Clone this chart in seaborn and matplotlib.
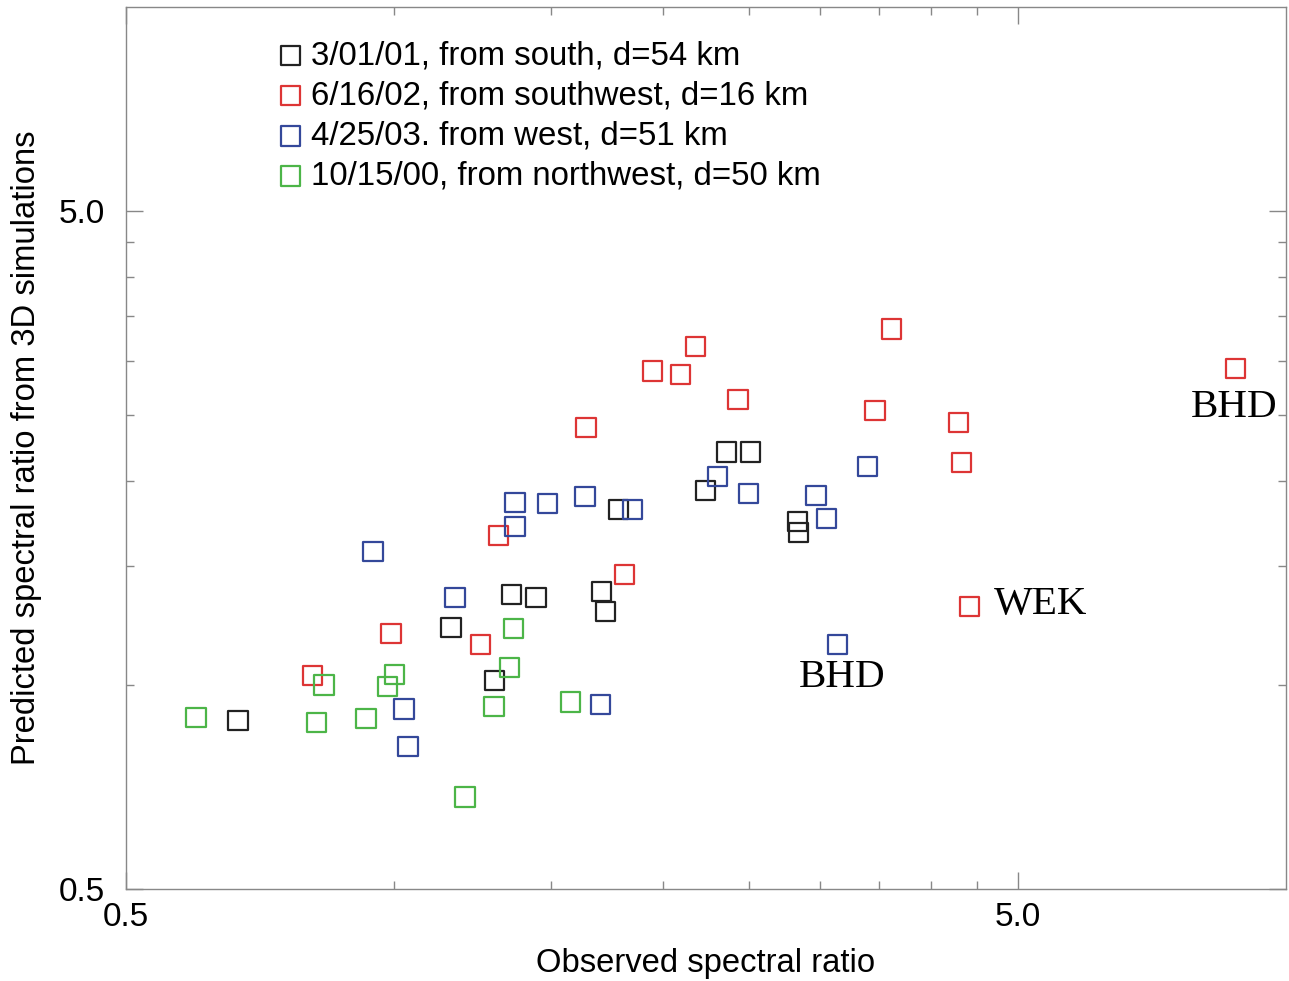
import matplotlib
matplotlib.use("Agg")
import matplotlib.pyplot as plt
import seaborn as sns
import pandas as pd
from matplotlib.ticker import NullFormatter, FixedLocator

# ---------------- data ----------------
labels = [
    "3/01/01, from south, d=54 km",
    "6/16/02, from southwest, d=16 km",
    "4/25/03. from west, d=51 km",
    "10/15/00, from northwest, d=50 km",
]
colors = ["#222222", "#dd3535", "#34489a", "#4cb548"]

black_x = [0.668, 1.157, 1.296, 1.354, 1.441, 1.707, 1.726, 1.785, 2.234, 2.356, 2.507, 2.831, 2.841]
black_y = [0.887, 1.216, 1.015, 1.360, 1.346, 1.373, 1.282, 1.814, 1.935, 2.205, 2.205, 1.742, 1.678]

red_x = [0.810, 0.991, 1.250, 1.309, 1.640, 1.813, 1.949, 2.095, 2.178, 2.430, 3.461, 3.612, 4.295, 4.323, 4.413, 8.776]
red_y = [1.033, 1.191, 1.148, 1.661, 2.395, 1.455, 2.906, 2.867, 3.153, 2.634, 2.538, 3.351, 2.437, 2.127, 1.306, 2.926]

blue_x = [0.946, 1.169, 1.025, 1.036, 1.365, 1.365, 1.486, 1.636, 1.704, 1.851, 2.305, 2.494, 2.972, 3.054, 3.395, 3.142]
blue_y = [1.573, 1.346, 0.921, 0.812, 1.858, 1.712, 1.851, 1.896, 0.936, 1.814, 2.029, 1.915, 1.902, 1.759, 2.099, 1.148]

green_x = [0.599, 0.818, 0.834, 0.929, 0.983, 1.001, 1.200, 1.293, 1.347, 1.361, 1.577]
green_y = [0.896, 0.881, 0.999, 0.893, 0.995, 1.037, 0.683, 0.930, 1.061, 1.212, 0.943]

series_x = [black_x, red_x, blue_x, green_x]
series_y = [black_y, red_y, blue_y, green_y]

# annotated stations: (label, x, y)
annot_labels = ["BHD", "WEK", "BHD"]
annot_x = [8.776, 4.413, 3.142]
annot_y = [2.926, 1.306, 1.148]

major_ticks = [0.5, 5.0]
major_labels = ["0.5", "5.0"]
minor_ticks = [1.0, 1.5, 2.0, 2.5, 3.0, 3.5, 4.0, 4.5]

# ---------------- style ----------------
sns.set_style("white")
plt.rcParams["font.family"] = ["Liberation Sans", "DejaVu Sans"]
plt.rcParams["text.color"] = "black"
plt.rcParams["axes.labelcolor"] = "black"
plt.rcParams["xtick.labelcolor"] = "black"
plt.rcParams["ytick.labelcolor"] = "black"

fig = plt.figure(figsize=(12.89, 9.81), dpi=100)
ax = fig.add_axes([0.0977, 0.0938, 0.9, 0.8991])

for lab, col, xs, ys in zip(labels, colors, series_x, series_y):
    df = pd.DataFrame({"x": xs, "y": ys})
    sns.scatterplot(data=df, x="x", y="y", ax=ax, marker="s", s=195,
                    facecolor="none", edgecolor=col, linewidth=1.6,
                    label=lab, legend=False, zorder=3)

ax.set_xscale("log")
ax.set_yscale("log")
ax.set_xlim(0.5, 10)
ax.set_ylim(0.5, 10)

for axis in (ax.xaxis, ax.yaxis):
    axis.set_major_locator(FixedLocator(major_ticks))
    axis.set_minor_locator(FixedLocator(minor_ticks))
    axis.set_minor_formatter(NullFormatter())
ax.set_xticklabels(major_labels)
ax.set_yticklabels(major_labels)

ax.tick_params(which="both", direction="in", top=True, right=True,
               bottom=True, left=True, color="#888888", width=1.0)
ax.tick_params(which="major", length=12, labelsize=24)
ax.tick_params(which="minor", length=6)
ax.tick_params(axis="x", which="major", pad=9.5)
ax.tick_params(axis="y", which="major", pad=15)

for sp in ax.spines.values():
    sp.set_color("#888888")
    sp.set_linewidth(1.0)

ax.set_xlabel("Observed spectral ratio", fontsize=23.6, labelpad=11)
ax.set_ylabel("Predicted spectral ratio from 3D simulations", fontsize=23.6, labelpad=12)

# annotations
offsets = [(-1, -28), (18, 1), (3, -24)]
has = ["center", "left", "center"]
for t, x, y, off, ha in zip(annot_labels, annot_x, annot_y, offsets, has):
    ax.annotate(t, (x, y), xytext=off, textcoords="offset points",
                ha=ha, va="center", fontsize=29.5, family="Liberation Serif",
                color="black")

leg = ax.legend(loc="upper left", bbox_to_anchor=(0.131, 0.9625), frameon=False,
                fontsize=23.8, handlelength=0.75, handletextpad=0.25,
                labelspacing=0.28, borderpad=0, borderaxespad=0, markerscale=1.0)

fig.savefig("out.png", dpi=100)
